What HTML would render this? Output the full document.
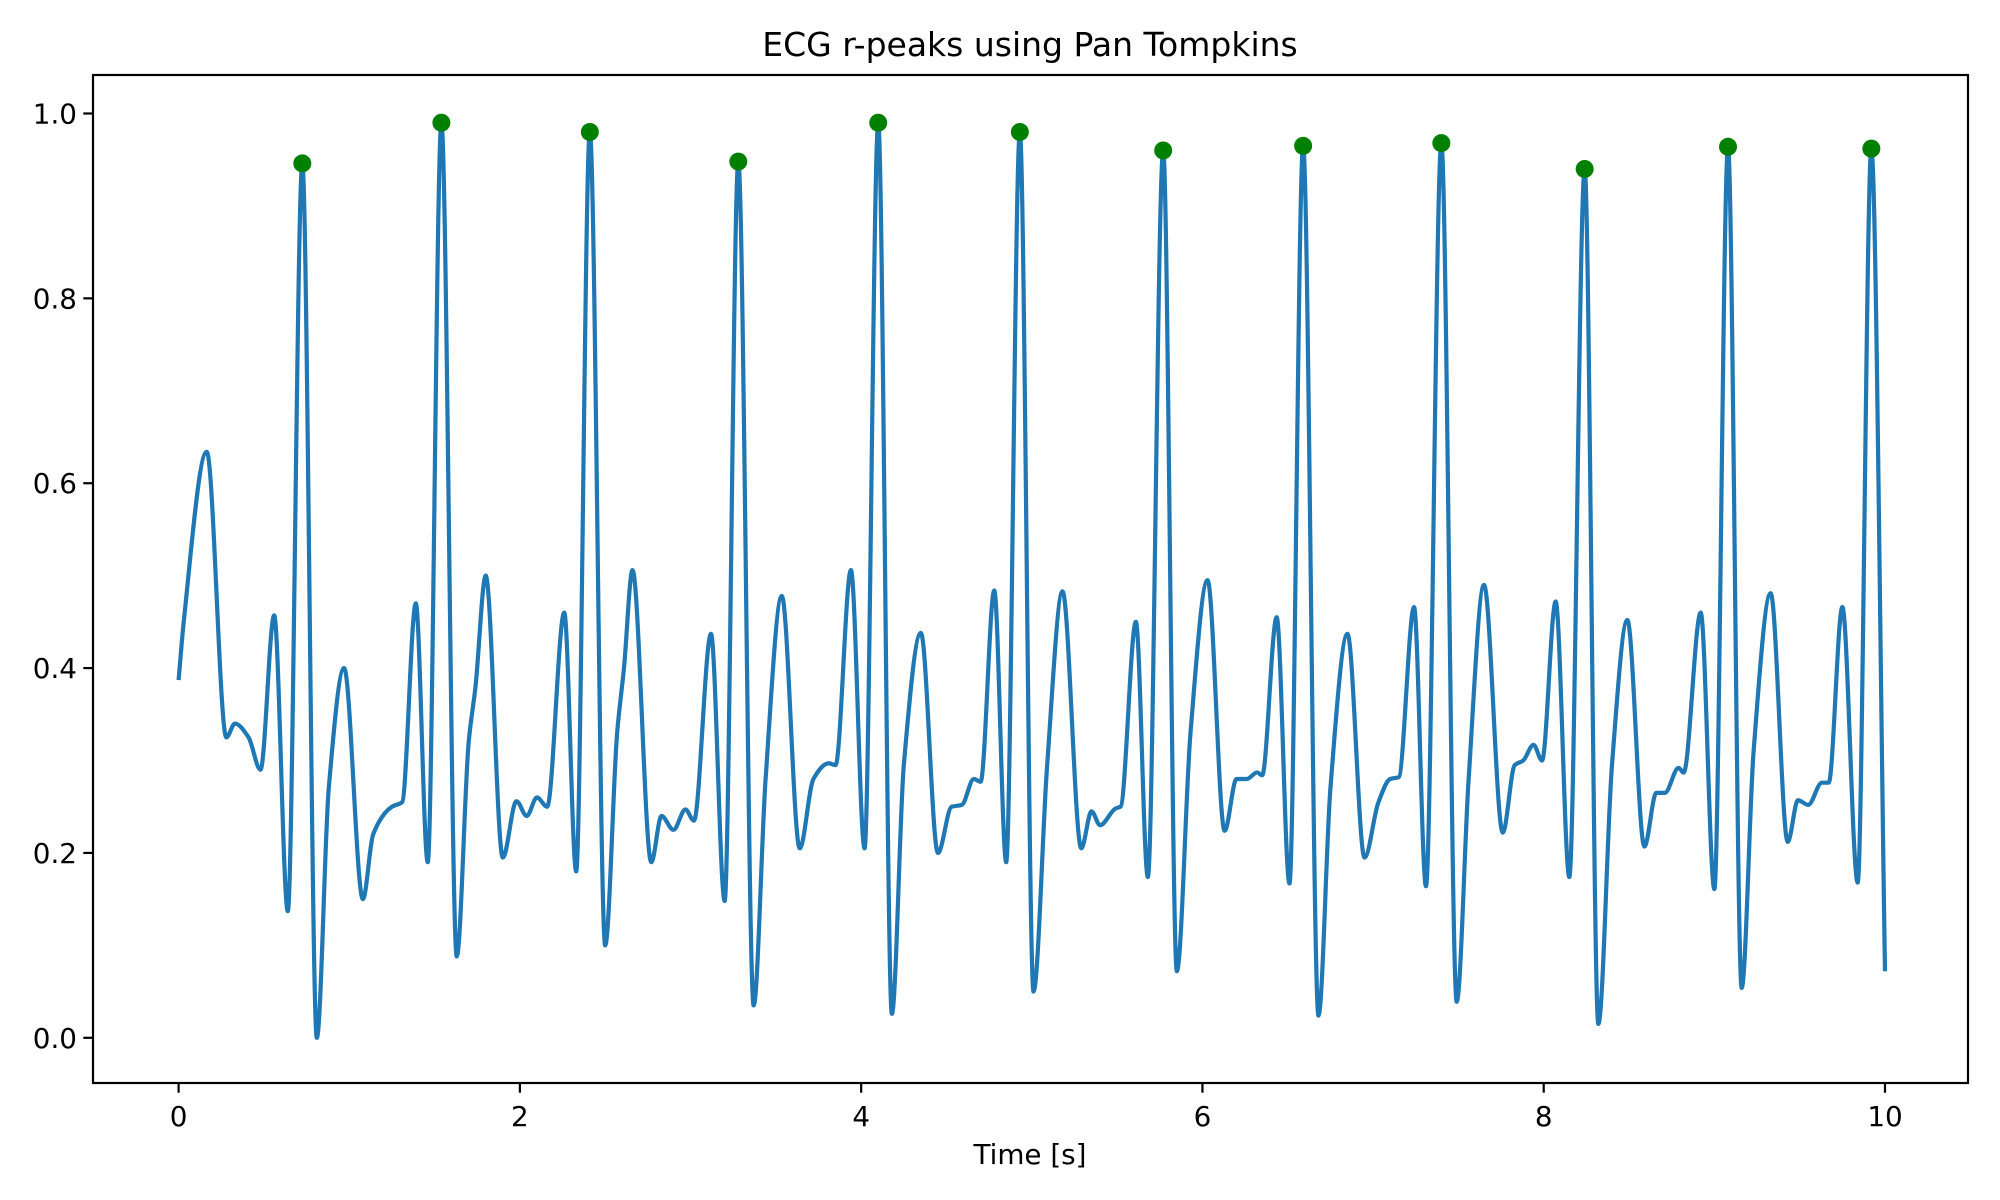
<!DOCTYPE html>
<html><head><meta charset="utf-8"><style>
html,body{margin:0;padding:0;background:#fff;}
svg{display:block;font-family:"DejaVu Sans","Liberation Sans",sans-serif;}
</style></head><body>
<svg id="chart" width="2000" height="1200" viewBox="0 0 2000 1200">
<rect x="0" y="0" width="2000" height="1200" fill="#fff"/>
<text x="1030" y="56" font-size="33" text-anchor="middle" fill="#000">ECG r-peaks using Pan Tompkins</text>
<text x="1030" y="1164" font-size="27.8" text-anchor="middle" fill="#000">Time [s]</text>
<g id="plot"></g>
</svg>
<script>
const times = [0,0.03,0.165,0.28,0.33,0.41,0.48,0.56,0.64,0.725,0.81,0.88,0.97,1.08,1.14,1.25,1.31,1.39,1.46,1.54,1.63,1.70,1.74,1.80,1.90,1.98,2.04,2.10,2.16,2.26,2.33,2.41,2.50,2.57,2.61,2.66,2.77,2.83,2.90,2.97,3.02,3.12,3.20,3.28,3.37,3.44,3.535,3.64,3.72,3.81,3.85,3.94,4.02,4.10,4.18,4.25,4.35,4.45,4.53,4.59,4.66,4.70,4.78,4.85,4.93,5.01,5.09,5.18,5.29,5.35,5.40,5.49,5.52,5.61,5.68,5.77,5.85,5.93,6.03,6.13,6.20,6.26,6.32,6.35,6.435,6.51,6.59,6.68,6.75,6.85,6.95,7.03,7.10,7.15,7.24,7.31,7.40,7.49,7.56,7.65,7.76,7.83,7.88,7.94,7.99,8.07,8.15,8.24,8.32,8.40,8.49,8.59,8.66,8.71,8.79,8.82,8.92,9.00,9.08,9.16,9.23,9.33,9.43,9.49,9.55,9.63,9.67,9.75,9.84,9.92,10.0];
const values = [0.387,0.45,0.634,0.325,0.34,0.325,0.29,0.457,0.137,0.946,0.0,0.27,0.40,0.15,0.22,0.25,0.255,0.47,0.19,0.99,0.088,0.32,0.38,0.50,0.195,0.256,0.24,0.26,0.25,0.46,0.18,0.98,0.10,0.33,0.40,0.506,0.19,0.24,0.225,0.247,0.235,0.437,0.148,0.948,0.035,0.28,0.478,0.205,0.28,0.297,0.295,0.506,0.205,0.99,0.026,0.295,0.438,0.20,0.25,0.252,0.28,0.277,0.484,0.19,0.98,0.05,0.295,0.483,0.205,0.245,0.23,0.248,0.25,0.45,0.174,0.96,0.072,0.33,0.495,0.224,0.28,0.28,0.287,0.284,0.455,0.167,0.965,0.024,0.27,0.437,0.195,0.254,0.28,0.282,0.466,0.164,0.968,0.039,0.28,0.49,0.222,0.295,0.30,0.317,0.30,0.472,0.174,0.94,0.015,0.295,0.452,0.207,0.265,0.265,0.292,0.287,0.46,0.161,0.964,0.054,0.31,0.481,0.212,0.257,0.252,0.276,0.276,0.466,0.168,0.962,0.072];
const peakTimes = [0.725,1.54,2.41,3.28,4.10,4.93,5.77,6.59,7.40,8.24,9.08,9.92];
const peakValues = [0.946,0.99,0.98,0.948,0.99,0.98,0.96,0.965,0.968,0.94,0.964,0.962];
const xTicks = [0,2,4,6,8,10];
const yTicks = [0.0,0.2,0.4,0.6,0.8,1.0];
const yTickLabels = ["0.0","0.2","0.4","0.6","0.8","1.0"];

const L=93,R=1968,T=75,B=1083;
const sx = t => 178.6 + t*(1885-178.6)/10;
const sy = v => 1037.8 - v*(1037.8-113.5);
const NS="http://www.w3.org/2000/svg";
const g=document.getElementById('plot');
function mk(tag,attrs){const e=document.createElementNS(NS,tag);for(const k in attrs)e.setAttribute(k,attrs[k]);g.appendChild(e);return e;}

// monotone cubic (Fritsch-Carlson) through read points
const X=times.map(sx), Y=values.map(sy), n=X.length;
const dl=[], m=new Array(n).fill(0);
for(let i=0;i<n-1;i++) dl.push((Y[i+1]-Y[i])/(X[i+1]-X[i]));
m[0]=dl[0]; m[n-1]=dl[n-2];
for(let i=1;i<n-1;i++){
  if(dl[i-1]*dl[i]<=0) m[i]=0;
  else { const w1=2*(X[i+1]-X[i])+(X[i]-X[i-1]), w2=(X[i+1]-X[i])+2*(X[i]-X[i-1]);
    m[i]=(w1+w2)/(w1/dl[i-1]+w2/dl[i]); }
}
let d="M"+X[0]+","+Y[0];
for(let i=0;i<n-1;i++){
  const h=(X[i+1]-X[i])/3;
  d+=` C${X[i]+h},${Y[i]+m[i]*h} ${X[i+1]-h},${Y[i+1]-m[i+1]*h} ${X[i+1]},${Y[i+1]}`;
}
const line=mk('path',{d:d,fill:'none',stroke:'#1f77b4','stroke-width':4.2,'stroke-linejoin':'round'});



peakTimes.forEach((t,i)=>{
  const c=mk('circle',{cx:sx(t),cy:sy(peakValues[i]),r:9,fill:'#008000'});
  
  
});

const frame=mk('rect',{x:L,y:T,width:R-L,height:B-T,fill:'none',stroke:'#000','stroke-width':2.2});



xTicks.forEach(t=>{
  const tk=mk('line',{x1:sx(t),x2:sx(t),y1:B,y2:B+9.7,stroke:'#000','stroke-width':2.2});
  
  
  const lb=mk('text',{x:sx(t),y:B+43,'font-size':27.8,'text-anchor':'middle',fill:'#000'});
  lb.textContent=String(t);
  
  
});
yTicks.forEach((v,i)=>{
  const tk=mk('line',{x1:L-9.7,x2:L,y1:sy(v),y2:sy(v),stroke:'#000','stroke-width':2.2});
  
  
  const lb=mk('text',{x:L-16,y:sy(v)+10,'font-size':27.8,'text-anchor':'end',fill:'#000'});
  lb.textContent=yTickLabels[i];
  
  
});
</script>
</body></html>
